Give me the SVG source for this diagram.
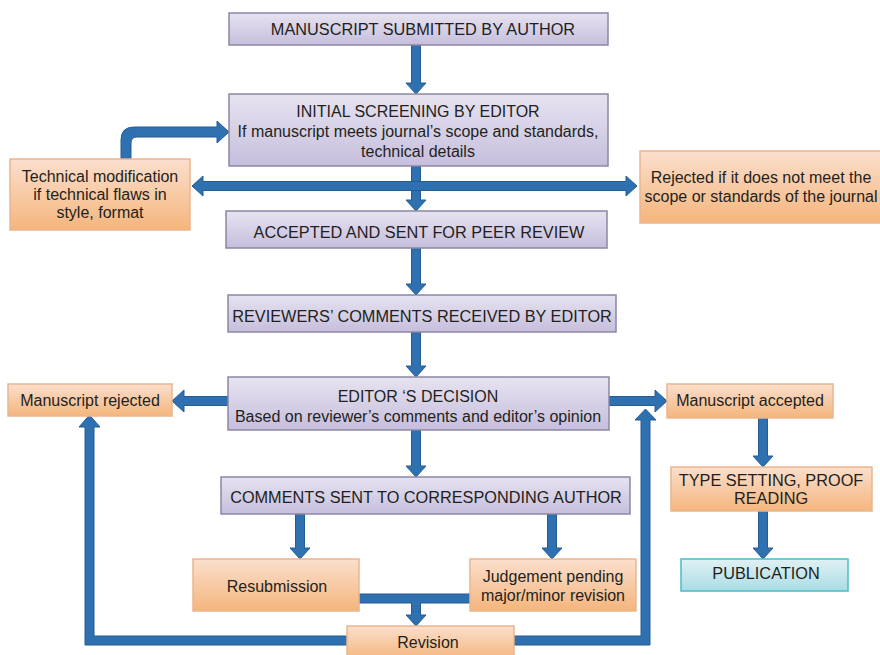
<svg xmlns="http://www.w3.org/2000/svg" width="880" height="655" viewBox="0 0 880 655">
<defs>
<linearGradient id="gp" x1="0" y1="0" x2="0" y2="1"><stop offset="0" stop-color="#e6e3f0"/><stop offset="1" stop-color="#c6bedd"/></linearGradient>
<linearGradient id="go" x1="0" y1="0" x2="0" y2="1"><stop offset="0" stop-color="#fbdfcd"/><stop offset="1" stop-color="#f4b57c"/></linearGradient>
<linearGradient id="gb" x1="0" y1="0" x2="0" y2="1"><stop offset="0" stop-color="#e0f1f4"/><stop offset="1" stop-color="#a9dde4"/></linearGradient>
<style>
.p{fill:url(#gp);stroke:#8c87a3;stroke-width:1.5}
.o{fill:url(#go);stroke:#eab58f;stroke-width:1.5}
.b{fill:url(#gb);stroke:#4bbcc6;stroke-width:1.5}
text{font-family:"Liberation Sans",Arial,sans-serif;font-size:16px;fill:#231f20;text-anchor:middle}
.c{font-size:16.3px}
.a{fill:#2f70b0;stroke:#255d93;stroke-width:1}
</style>
</defs>
<rect width="880" height="655" fill="#ffffff"/>
<g id="connectors">
<polygon class="a" points="411.5,45 420.5,45 420.5,83 426,83 416,94 406,83 411.5,83"/>
<polygon class="a" points="411.5,166 420.5,166 420.5,200 426,200 416,211 406,200 411.5,200"/>
<polygon class="a" points="411.5,248 420.5,248 420.5,284 426,284 416,295 406,284 411.5,284"/>
<polygon class="a" points="411.5,332 420.5,332 420.5,366 426,366 416,377 406,366 411.5,366"/>
<polygon class="a" points="411.5,430 420.5,430 420.5,466 426,466 416,477 406,466 411.5,466"/>
<polygon class="a" points="295.5,514 304.5,514 304.5,548 310,548 300,559 290,548 295.5,548"/>
<polygon class="a" points="547.5,514 556.5,514 556.5,548 562,548 552,559 542,548 547.5,548"/>
<polygon class="a" points="758.5,418 767.5,418 767.5,456 773,456 763,467 753,456 758.5,456"/>
<polygon class="a" points="758.5,511 767.5,511 767.5,548 773,548 763,559 753,548 758.5,548"/>
<polygon class="a" points="192,186 203,176 203,181.5 626,181.5 626,176 637,186 626,196 626,190.5 203,190.5 203,196"/>
<path class="a" d="M121,159 L121,140 Q121,127 134,127 L217,127 L217,121 L229,132 L217,143 L217,137 L137,137 Q131,137 131,143 L131,159 Z"/>
<polygon class="a" points="228,396.5 184,396.5 184,390 172,401 184,412 184,405.5 228,405.5"/>
<polygon class="a" points="609,396.5 655,396.5 655,390 667,401 655,412 655,405.5 609,405.5"/>
<polygon class="a" points="359,594 470,594 470,603 420.5,603 420.5,615 426,615 416,626 406,615 411.5,615 411.5,603 359,603"/>
<polygon class="a" points="347,636 94,636 94,427 100,427 89.5,415 79,427 85,427 85,645 347,645"/>
<polygon class="a" points="514,636 641,636 641,420 635,420 645.5,409 656,420 650,420 650,645 514,645"/>
</g>
<g id="n1"><rect class="p" x="229" y="13" width="379" height="32"/><text class="c" x="423" y="35">MANUSCRIPT SUBMITTED BY AUTHOR</text></g>
<g id="n2"><rect class="p" x="229" y="94" width="379" height="72"/><text x="418" y="117">INITIAL SCREENING BY EDITOR</text><text x="418" y="137">If manuscript meets journal’s scope and standards,</text><text x="418" y="157">technical details</text></g>
<g id="n3"><rect class="o" x="10" y="159" width="180" height="71"/><text x="100" y="182">Technical modification</text><text x="100" y="200">if technical flaws in</text><text x="100" y="218">style, format</text></g>
<g id="n4"><rect class="o" x="640" y="151" width="245" height="72"/><text x="761" y="183">Rejected if it does not meet the</text><text x="761" y="202">scope or standards of the journal</text></g>
<g id="n5"><rect class="p" x="226" y="211" width="381" height="37"/><text class="c" x="419" y="238">ACCEPTED AND SENT FOR PEER REVIEW</text></g>
<g id="n6"><rect class="p" x="228" y="295" width="388" height="37"/><text class="c" x="422" y="322">REVIEWERS’ COMMENTS RECEIVED BY EDITOR</text></g>
<g id="n7"><rect class="p" x="228" y="377" width="381" height="53"/><text x="418" y="402">EDITOR ‘S DECISION</text><text x="418" y="422">Based on reviewer’s comments and editor’s opinion</text></g>
<g id="n8"><rect class="o" x="8" y="384" width="164" height="32"/><text x="90" y="406">Manuscript rejected</text></g>
<g id="n9"><rect class="o" x="667" y="384" width="166" height="34"/><text x="750" y="406">Manuscript accepted</text></g>
<g id="n10"><rect class="p" x="221" y="477" width="409" height="37"/><text class="c" x="426" y="503">COMMENTS SENT TO CORRESPONDING AUTHOR</text></g>
<g id="n11"><rect class="o" x="193" y="559" width="166" height="52"/><text x="277" y="592">Resubmission</text></g>
<g id="n12"><rect class="o" x="470" y="559" width="166" height="52"/><text x="553" y="582">Judgement pending</text><text x="553" y="601">major/minor revision</text></g>
<g id="n13"><rect class="o" x="347" y="626" width="167" height="34"/><text x="428" y="648">Revision</text></g>
<g id="n14"><rect class="o" x="671" y="467" width="201" height="44"/><text class="c" x="771" y="486">TYPE SETTING, PROOF</text><text class="c" x="771" y="504">READING</text></g>
<g id="n15"><rect class="b" x="681" y="559" width="167" height="32"/><text class="c" x="766" y="579">PUBLICATION</text></g>
</svg>
